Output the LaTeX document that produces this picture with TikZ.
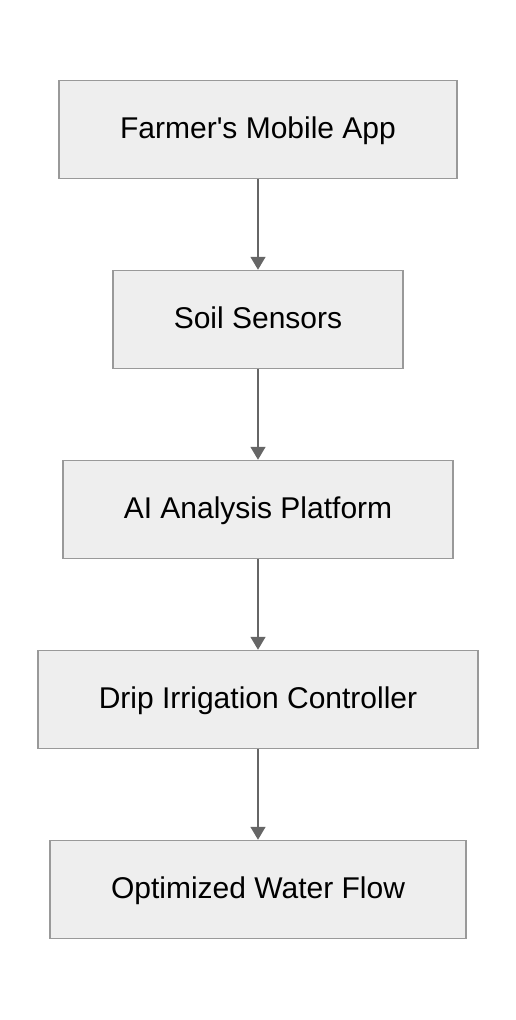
\documentclass[tikz,border=0pt]{standalone}
\usepackage{fontspec}
\setmainfont{Liberation Sans}
\usetikzlibrary{positioning,arrows.meta}
\definecolor{boxfill}{HTML}{EEEEEE}
\definecolor{boxline}{HTML}{999999}
\definecolor{flowline}{HTML}{666666}

\begin{document}
\begin{tikzpicture}[x=1pt,y=1pt,
    stage/.style={draw=boxline,fill=boxfill,line width=1.5pt,minimum height=98pt,
                  inner xsep=61pt,text height=22pt,text depth=5pt,font=\fontsize{30}{36}\selectfont},
    flow/.style={draw=flowline,line width=1.5pt,-{Triangle[width=15pt,length=13pt]}}]
    \useasboundingbox (0,0) rectangle (516,-1020);
    \node[stage] (app) at (258,-129.5) {Farmer\textquotesingle s Mobile App};
    \node[stage,below=90.5pt of app] (soil) {Soil Sensors};
    \node[stage,below=90.5pt of soil] (ai) {AI Analysis Platform};
    \node[stage,below=90.5pt of ai] (drip) {Drip Irrigation Controller};
    \node[stage,below=90.5pt of drip] (water) {Optimized Water Flow};
    \draw[flow] (app) -- (soil);
    \draw[flow] (soil) -- (ai);
    \draw[flow] (ai) -- (drip);
    \draw[flow] (drip) -- (water);
\end{tikzpicture}
\end{document}
